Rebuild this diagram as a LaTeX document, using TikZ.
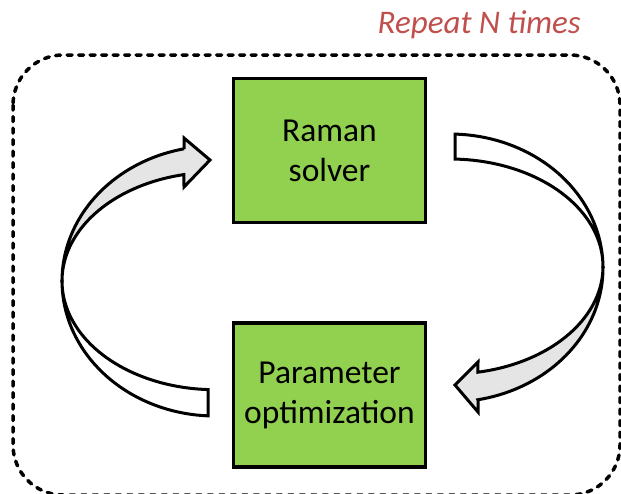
\documentclass[tikz,border=0pt]{standalone}
\usepackage{fontspec}
\setmainfont{Carlito}
\definecolor{boxgreen}{HTML}{92D050}
\definecolor{arrgrey}{HTML}{E5E5E5}
\definecolor{reptext}{HTML}{C0504D}
\begin{document}
\begin{tikzpicture}[x=1pt,y=-1pt,
  box/.style={draw=black, line width=3.5pt, fill=boxgreen, minimum width=192pt, minimum height=144pt, inner sep=0pt, align=center, font=\fontsize{33.5}{40}\selectfont},
  arrowline/.style={draw=black, line width=3pt},
  loopborder/.style={draw=black, line width=3.5pt, dash pattern=on 5pt off 6.5pt, line cap=round, rounded corners=50pt},
  arc/.style={samples=40, variable=\t}]
\useasboundingbox (0,0) rectangle (621,493);
\clip (0,0) rectangle (621,493);

% repeat loop frame
\draw[loopborder] (13,55) rectangle (620,495);
\node[anchor=base east, text=reptext, font=\fontsize{33}{40}\selectfont\itshape, inner sep=0pt] (rep) at (581,33) {Repeat N times};

% left curved arrow: back (white) band
\draw[arrowline, fill=white]
  plot[arc, domain=180:92.6] ({215+153*cos(\t)},{281+135*sin(\t)})
  -- plot[arc, domain=92.6:180] ({215+153*cos(\t)},{281+108.7*sin(\t)}) -- cycle;
% left curved arrow: front (grey) band with head
\draw[arrowline, fill=arrgrey]
  (184,149) -- (184,138) -- (210,160) -- (184,187)
  -- plot[arc, domain=258.3:180] ({215+153*cos(\t)},{281+108.7*sin(\t)})
  -- plot[arc, domain=180:258.3] ({215+153*cos(\t)},{281+135*sin(\t)}) -- cycle;

% right curved arrow: back (white) band
\draw[arrowline, fill=white]
  plot[arc, domain=271.9:360] ({450+153*cos(\t)},{268+134*sin(\t)})
  -- plot[arc, domain=360:271.9] ({450+153*cos(\t)},{266.5+107.5*sin(\t)}) -- cycle;
% right curved arrow: front (grey) band with head
\draw[arrowline, fill=arrgrey]
  (478,400) -- (478,412) -- (455,385) -- (478,362)
  -- plot[arc, domain=439.5:360] ({450+153*cos(\t)},{266.5+107.5*sin(\t)})
  -- plot[arc, domain=360:439.5] ({450+153*cos(\t)},{268+134*sin(\t)}) -- cycle;

% boxes
\node[box] (raman) at (329.5,150.5) {Raman\\solver};
\node[box] (param) at (329.5,395) {Parameter\\optimization};
\end{tikzpicture}
\end{document}
